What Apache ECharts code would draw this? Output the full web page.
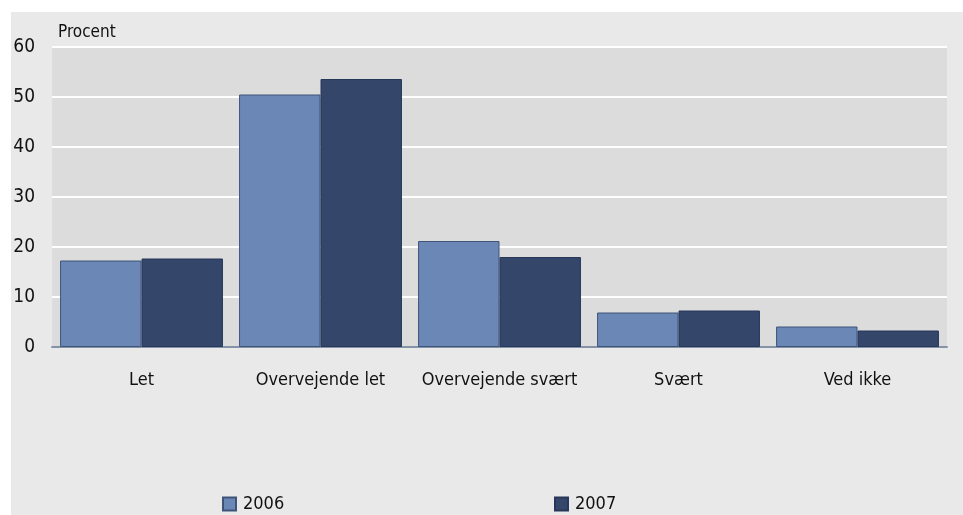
<!DOCTYPE html>
<html lang="da">
<head>
    <meta charset="UTF-8">
    <title>Procent</title>
    <script src="https://cdn.jsdelivr.net/npm/echarts@6/dist/echarts.min.js"></script>
    <style>
        html, body { margin: 0; padding: 0; background: #ffffff; }
        #chart { width: 963px; height: 515px; }
    </style>
</head>
<body>
<div id="chart"></div>
<script>
    // data
    var categories = ['Let', 'Overvejende let', 'Overvejende svært', 'Svært', 'Ved ikke'];
    var values2006 = [17.3, 50.5, 21.2, 6.9, 4.1];
    var values2007 = [17.7, 53.6, 18.0, 7.3, 3.3];
    var seriesNames = ['2006', '2007'];
    var yTicks = [0, 10, 20, 30, 40, 50, 60];

    var fontName = '"DejaVu Sans Condensed", "DejaVu Sans", sans-serif';
    var myChart = echarts.init(document.getElementById('chart'));

    var option = {
        animation: false,
        textStyle: { fontFamily: fontName },
        graphic: [{
            type: 'rect',
            z: -10,
            shape: { x: 11, y: 12, width: 952, height: 503 },
            style: { fill: '#e9e9e9' }
        }, {
            type: 'text',
            left: 58,
            top: 24,
            style: { text: 'Procent', fill: '#111', font: '17px ' + fontName }
        }],
        grid: {
            left: 52, right: 16, top: 47, bottom: 168,
            show: true, backgroundColor: '#dcdcdc', borderWidth: 0
        },
        legend: [{
            data: [seriesNames[0]],
            left: 217, top: 490,
            itemWidth: 13, itemHeight: 13, icon: 'rect',
            textStyle: { fontSize: 18, color: '#111', fontFamily: fontName, padding: [0, 0, 0, 2] }
        }, {
            data: [seriesNames[1]],
            left: 549, top: 490,
            itemWidth: 13, itemHeight: 13, icon: 'rect',
            textStyle: { fontSize: 18, color: '#111', fontFamily: fontName, padding: [0, 0, 0, 2] }
        }],
        xAxis: {
            type: 'category',
            data: categories,
            axisTick: { show: false },
            axisLine: { lineStyle: { color: '#8593a8', width: 2 } },
            axisLabel: { color: '#111', fontSize: 18, margin: 24, interval: 0 }
        },
        yAxis: {
            type: 'value',
            min: yTicks[0],
            max: yTicks[yTicks.length - 1],
            interval: 10,
            axisLine: { show: false },
            axisTick: { show: false },
            axisLabel: { color: '#111', fontSize: 19, margin: 17 },
            splitLine: { lineStyle: { color: '#ffffff', width: 2 } }
        },
        series: [{
            name: seriesNames[0],
            type: 'bar',
            data: values2006,
            barGap: '0%',
            barCategoryGap: '9%',
            itemStyle: { color: '#6b87b5', borderColor: '#3f5478', borderWidth: 1 }
        }, {
            name: seriesNames[1],
            type: 'bar',
            data: values2007,
            itemStyle: { color: '#34476b', borderColor: '#27375a', borderWidth: 1 }
        }]
    };
    myChart.setOption(option);
</script>
</body>
</html>
